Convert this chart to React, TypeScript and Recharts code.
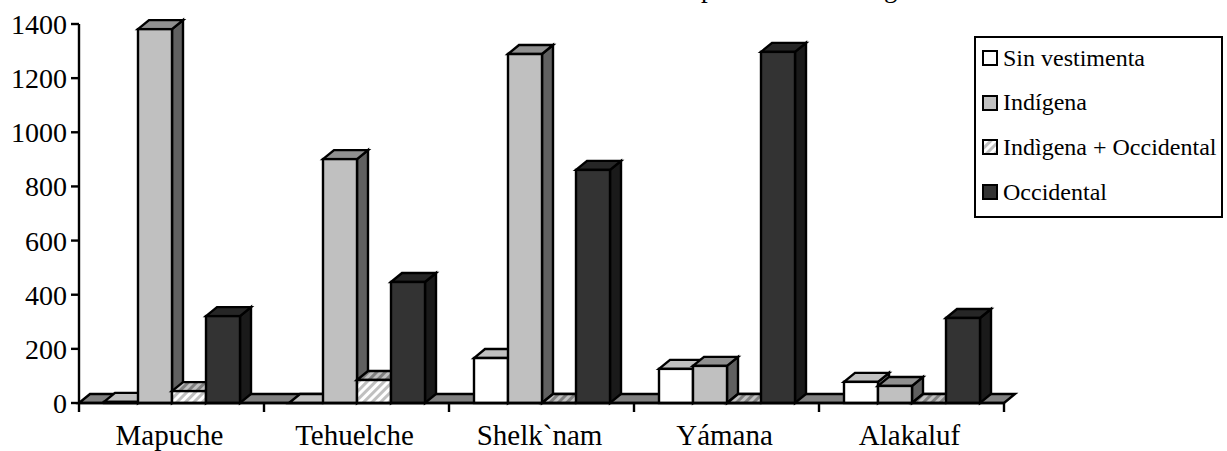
import { Bar, BarChart, XAxis, YAxis, usePlotArea } from "recharts";

const tribes = ["Mapuche", "Tehuelche", "Shelk`nam", "Yámana", "Alakaluf"];
const sinVestimenta = [4, 0, 166, 126, 78];
const indigena = [1381, 901, 1289, 137, 63];
const indigenaOccidental = [44, 85, 0, 0, 0];
const occidental = [321, 447, 861, 1297, 314];
const yTicks = [0, 200, 400, 600, 800, 1000, 1200, 1400];

const rows = tribes.map((tribe, i) => ({
  tribe,
  sinVestimenta: sinVestimenta[i],
  indigena: indigena[i],
  indigenaOccidental: indigenaOccidental[i],
  occidental: occidental[i],
}));

const SERIF = "'Liberation Serif', 'Times New Roman', serif";
const DEPTH_X = 11;
const DEPTH_Y = 9;
const BAND = 185;

type Faces = { front: string; top: string; side: string };

const whiteFaces: Faces = { front: "#ffffff", top: "#c0c0c0", side: "#808080" };
const greyFaces: Faces = { front: "#c0c0c0", top: "#909090", side: "#606060" };
const hatchFaces: Faces = { front: "url(#hatch)", top: "url(#hatchDark)", side: "#606060" };
const darkFaces: Faces = { front: "#333333", top: "#262626", side: "#1a1a1a" };

// Extruded box: front face comes from the bar scale, the rest is offset by the depth
const box = (faces: Faces) => (props: any) => {
  const { x, y, width, height } = props;
  const r = x + width;
  const b = y + height;
  return (
    <g stroke="#000" strokeWidth={2.4} strokeLinejoin="miter">
      <path
        fill={faces.side}
        d={`M${r} ${y}L${r + DEPTH_X} ${y - DEPTH_Y}V${b - DEPTH_Y}L${r} ${b}Z`}
      />
      <path
        fill={faces.top}
        d={`M${x} ${y}L${x + DEPTH_X} ${y - DEPTH_Y}H${r + DEPTH_X}L${r} ${y}Z`}
      />
      <rect x={x} y={y} width={width} height={height} fill={faces.front} />
    </g>
  );
};

// Grey floor under the bars, the hatch fills and the title's cut-off descenders
function Floor() {
  const plot = usePlotArea();
  if (!plot) return null;
  const b = plot.y + plot.height;
  const r = plot.x + plot.width;
  return (
    <g>
      <defs>
        <pattern id="hatch" width="6" height="6" patternUnits="userSpaceOnUse" patternTransform="rotate(45)">
          <rect width="6" height="6" fill="#ffffff" />
          <rect width="3" height="6" fill="#c0c0c0" />
        </pattern>
        <pattern id="hatchDark" width="6" height="6" patternUnits="userSpaceOnUse" patternTransform="rotate(45)">
          <rect width="6" height="6" fill="#c0c0c0" />
          <rect width="3" height="6" fill="#808080" />
        </pattern>
      </defs>
      <text x={701} y={-3} fontFamily={SERIF} fontSize={27} fill="#000">p</text>
      <text x={884} y={-3} fontFamily={SERIF} fontSize={27} fill="#000">g</text>
      <path
        fill="#808080"
        stroke="#000"
        strokeWidth={2.4}
        d={`M${plot.x} ${b}L${plot.x + DEPTH_X} ${b - DEPTH_Y}H${r + DEPTH_X}L${r} ${b}Z`}
      />
    </g>
  );
}

// Category label with its tick mark on the left band edge
const TribeTick = (props: any) => {
  const { x, index, payload } = props;
  const left = x - BAND / 2;
  return (
    <g>
      <line x1={left} x2={left} y1={403} y2={412} stroke="#000" strokeWidth={2.4} />
      {index === tribes.length - 1 && (
        <line x1={left + BAND} x2={left + BAND} y1={403} y2={412} stroke="#000" strokeWidth={2.4} />
      )}
      <text x={x - 2} y={445} textAnchor="middle" fontFamily={SERIF} fontSize={29} fill="#000">
        {payload.value}
      </text>
    </g>
  );
};

const legendItems = [
  { label: "Sin vestimenta", faces: whiteFaces },
  { label: "Indígena", faces: greyFaces },
  { label: "Indìgena + Occidental", faces: hatchFaces },
  { label: "Occidental", faces: darkFaces },
];

const LegendBox = () => (
  <div
    style={{
      position: "absolute",
      left: 974,
      top: 36,
      boxSizing: "border-box",
      width: 249,
      height: 182,
      border: "2px solid #000",
      background: "#fff",
      fontFamily: SERIF,
      fontSize: 24,
      color: "#000",
    }}
  >
    {legendItems.map((item, i) => (
      <div
        key={item.label}
        style={{ position: "absolute", left: 6, top: 7 + i * 44.7, height: 26, display: "flex", alignItems: "center", whiteSpace: "nowrap" }}
      >
        <svg width={16} height={16} style={{ marginRight: 5, flex: "none" }}>
          <rect x={1} y={1} width={14} height={14} fill={item.faces.front} stroke="#000" strokeWidth={2} />
        </svg>
        {item.label}
      </div>
    ))}
  </div>
);

export default function App() {
  return (
    <div style={{ position: "absolute", left: 0, top: 0, width: 1227, height: 451 }}>
      <BarChart
        width={1227}
        height={451}
        data={rows}
        margin={{ top: 24, right: 223, bottom: 0, left: 0 }}
        barCategoryGap={25}
        barGap={0}
      >
        <Floor />
        <XAxis
          dataKey="tribe"
          height={48}
          interval={0}
          tickLine={false}
          axisLine={{ stroke: "#000", strokeWidth: 2.4 }}
          tick={TribeTick}
        />
        <YAxis
          width={79}
          domain={[0, 1400]}
          ticks={yTicks}
          interval={0}
          tickSize={8}
          tickMargin={4}
          axisLine={{ stroke: "#000", strokeWidth: 2.4 }}
          tickLine={{ stroke: "#000", strokeWidth: 2.4 }}
          tick={{ fill: "#000", fontFamily: SERIF, fontSize: 28 }}
        />
        <Bar dataKey="sinVestimenta" isAnimationActive={false} shape={box(whiteFaces)} />
        <Bar dataKey="indigena" isAnimationActive={false} shape={box(greyFaces)} />
        <Bar dataKey="indigenaOccidental" isAnimationActive={false} shape={box(hatchFaces)} />
        <Bar dataKey="occidental" isAnimationActive={false} shape={box(darkFaces)} />
      </BarChart>
      <LegendBox />
    </div>
  );
}
